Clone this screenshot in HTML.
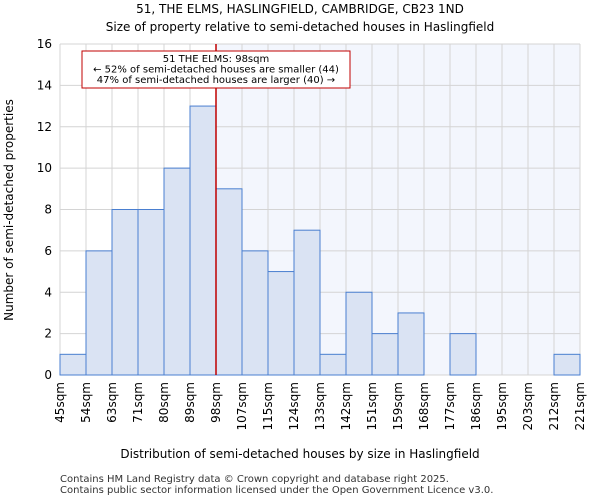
<!DOCTYPE html>
<html><head><meta charset="utf-8"><style>
body{margin:0;background:#fff;font-family:"DejaVu Sans","Liberation Sans",sans-serif;}
</style></head><body>
<svg width="600" height="500" xmlns="http://www.w3.org/2000/svg" font-family="DejaVu Sans, Liberation Sans, sans-serif">
<text x="300" y="13" text-anchor="middle" font-size="12">51, THE ELMS, HASLINGFIELD, CAMBRIDGE, CB23 1ND</text>
<text x="300" y="31" text-anchor="middle" font-size="12">Size of property relative to semi-detached houses in Haslingfield</text>
<g id="plot"></g>
<text x="300" y="458" text-anchor="middle" font-size="12">Distribution of semi-detached houses by size in Haslingfield</text>
<text x="13" y="210" text-anchor="middle" font-size="12" transform="rotate(-90 13 210)">Number of semi-detached properties</text>
<text x="60" y="482" font-size="10" fill="#333">Contains HM Land Registry data © Crown copyright and database right 2025.</text>
<text x="60" y="493" font-size="10" fill="#333">Contains public sector information licensed under the Open Government Licence v3.0.</text>
</svg>
<script>
const categories=["45sqm","54sqm","63sqm","71sqm","80sqm","89sqm","98sqm","107sqm","115sqm","124sqm","133sqm","142sqm","151sqm","159sqm","168sqm","177sqm","186sqm","195sqm","203sqm","212sqm","221sqm"];
const counts=[1,6,8,8,10,13,9,6,5,7,1,4,2,3,0,2,0,0,0,1];
const yTicks=[0,2,4,6,8,10,12,14,16];
const markerIndex=6;
const NS="http://www.w3.org/2000/svg";
const g=document.getElementById('plot');
const L=60,R=580,T=44,B=375,yMax=16;
const bw=(R-L)/counts.length;
const xs=i=>L+i*bw;
const ys=v=>B-(v/yMax)*(B-T);
function mk(t,a,p){const e=document.createElementNS(NS,t);for(const k in a)e.setAttribute(k,a[k]);(p||g).appendChild(e);return e;}
let e;
e=mk('rect',{x:xs(markerIndex),y:T,width:R-xs(markerIndex),height:B-T,fill:'#f3f6fd'});


for(let i=0;i<=counts.length;i++){e=mk('line',{x1:xs(i),x2:xs(i),y1:T,y2:B,stroke:'#d4d4d4','stroke-width':1});

}
yTicks.forEach(v=>{e=mk('line',{x1:L,x2:R,y1:ys(v),y2:ys(v),stroke:'#d4d4d4','stroke-width':1});


e=mk('text',{x:L-8,y:ys(v)+4,'text-anchor':'end','font-size':12});e.textContent=v;

});
counts.forEach((c,i)=>{if(c<=0)return;e=mk('rect',{x:xs(i),y:ys(c),width:bw,height:ys(0)-ys(c),fill:'#dae3f3',stroke:'#4a7fd0','stroke-width':1});

});
categories.forEach((c,i)=>{const x=xs(i)+4;e=mk('text',{x:x,y:382,'text-anchor':'end','font-size':12,transform:`rotate(-90 ${x} 382)`});e.textContent=c;

});
e=mk('line',{x1:xs(markerIndex),x2:xs(markerIndex),y1:T,y2:B,stroke:'#c00000','stroke-width':1.5});


e=mk('rect',{x:82,y:51,width:268,height:37,fill:'#fff',stroke:'#c00000','stroke-width':1});


["51 THE ELMS: 98sqm","← 52% of semi-detached houses are smaller (44)","47% of semi-detached houses are larger (40) →"].forEach((t,i)=>{e=mk('text',{x:216,y:62+i*10.5,'text-anchor':'middle','font-size':10});e.textContent=t;

});
</script>
</body></html>
